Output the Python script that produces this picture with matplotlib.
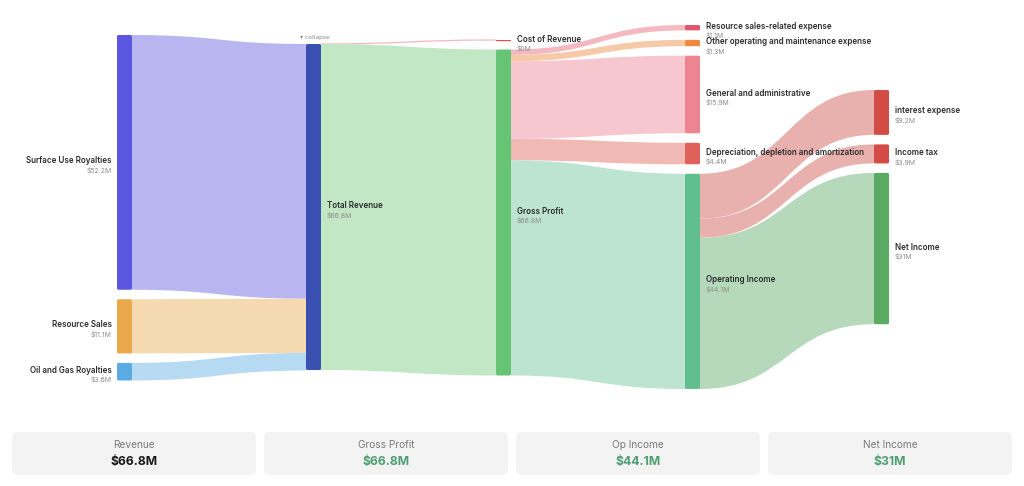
import matplotlib
matplotlib.use('Agg')
from matplotlib import pyplot as plt
from matplotlib.path import Path
from matplotlib.patches import PathPatch, FancyBboxPatch

plt.rcParams['font.family'] = ['Inter', 'DejaVu Sans']

# ---- data ($M) ----
node_names = ['Surface Use Royalties', 'Resource Sales', 'Oil and Gas Royalties',
              'Total Revenue',
              'Cost of Revenue', 'Gross Profit',
              'Resource sales-related expense', 'Other operating and maintenance expense',
              'General and administrative', 'Depreciation, depletion and amortization',
              'Operating Income',
              'interest expense', 'Income tax', 'Net Income']
node_values = [52.2, 11.1, 3.6,
               66.8,
               0.0, 66.8,
               1.1, 1.3, 15.9, 4.4, 44.1,
               9.2, 3.9, 31.0]
node_cols = [0, 0, 0, 1, 2, 2, 3, 3, 3, 3, 3, 4, 4, 4]

link_src = ['Surface Use Royalties', 'Resource Sales', 'Oil and Gas Royalties',
            'Total Revenue', 'Total Revenue',
            'Gross Profit', 'Gross Profit', 'Gross Profit', 'Gross Profit', 'Gross Profit',
            'Operating Income', 'Operating Income', 'Operating Income']
link_tgt = ['Total Revenue', 'Total Revenue', 'Total Revenue',
            'Cost of Revenue', 'Gross Profit',
            'Resource sales-related expense', 'Other operating and maintenance expense',
            'General and administrative', 'Depreciation, depletion and amortization',
            'Operating Income',
            'interest expense', 'Income tax', 'Net Income']
link_values = [52.2, 11.1, 3.6, 0.0, 66.8, 1.1, 1.3, 15.9, 4.4, 44.1, 9.2, 3.9, 31.0]

card_titles = ['Revenue', 'Gross Profit', 'Op Income', 'Net Income']
card_nodes = ['Total Revenue', 'Gross Profit', 'Operating Income', 'Net Income']

# ---- styles / layout (pixel units) ----
node_colors = ['#5c57e0', '#eaa84a', '#5aabe3', '#3a50b0', '#e05050', '#66c474',
               '#e0566a', '#ee8a40', '#ec8590', '#e0605a', '#60be8f',
               '#d24b45', '#d24b45', '#5aaa61']
link_colors = ['#b8b5f0', '#f5d9b1', '#b7daf3', '#f3b8c0', '#c1e7c5',
               '#f3b8c0', '#f6c9a8', '#f6c7ce', '#f0b9b3', '#bde4d1',
               '#e9b1ae', '#e9b1ae', '#b6d9bb']
col_x = [117, 306, 496, 685, 874]
col_top = [35, 44, 40, 25, 90]
node_w = 15
gap = 9.5
scale = 326 / 66.8  # px per $M

W, H = 1024, 486
fig = plt.figure(figsize=(W / 100, H / 100), dpi=100)
ax = fig.add_axes([0, 0, 1, 1])
ax.set_xlim(0, W)
ax.set_ylim(H, 0)
ax.axis('off')

# node layout
pos = {}
col_cursor = list(col_top)
for name, val, col in zip(node_names, node_values, node_cols):
    h = val * scale
    y0 = col_cursor[col]
    pos[name] = (col_x[col], y0, h)
    col_cursor[col] = y0 + h + gap

# links
src_off = {n: 0.0 for n in node_names}
tgt_off = {n: 0.0 for n in node_names}
for s, t, v, c in zip(link_src, link_tgt, link_values, link_colors):
    sx, sy, _ = pos[s]
    tx, ty, _ = pos[t]
    h = v * scale
    x0 = sx + node_w
    x1 = tx
    xm = (x0 + x1) / 2
    y0a = sy + src_off[s]
    y1a = ty + tgt_off[t]
    src_off[s] += h
    tgt_off[t] += h
    if h < 0.5:
        verts = [(x0, y0a), (xm, y0a), (xm, y1a), (x1, y1a)]
        codes = [Path.MOVETO, Path.CURVE4, Path.CURVE4, Path.CURVE4]
        ax.add_patch(PathPatch(Path(verts, codes), facecolor='none', edgecolor=c, lw=0.9, zorder=1))
        continue
    y0b, y1b = y0a + h, y1a + h
    verts = [(x0, y0a), (xm, y0a), (xm, y1a), (x1, y1a),
             (x1, y1b), (xm, y1b), (xm, y0b), (x0, y0b), (x0, y0a)]
    codes = [Path.MOVETO, Path.CURVE4, Path.CURVE4, Path.CURVE4,
             Path.LINETO, Path.CURVE4, Path.CURVE4, Path.CURVE4, Path.CLOSEPOLY]
    ax.add_patch(PathPatch(Path(verts, codes), facecolor=c, edgecolor='none', zorder=1))


def fmt(v):
    return '${:g}M'.format(round(v, 1))


# nodes + labels
for name, val, col, nc in zip(node_names, node_values, node_cols, node_colors):
    x, y, h = pos[name]
    hh = max(h, 1.2)
    ax.add_patch(FancyBboxPatch((x, y), node_w, hh,
                                boxstyle='round,pad=0,rounding_size={}'.format(min(1.5, hh / 2)),
                                facecolor=nc, edgecolor='none', zorder=2))
    cy = y + hh / 2
    if col == 0:
        lx, ha = x - 5, 'right'
    else:
        lx, ha = x + node_w + 6, 'left'
    ax.text(lx, cy - 1.5, name, ha=ha, va='center', fontsize=5.8, fontweight='semibold',
            color='#2b2b2b', zorder=3)
    ax.text(lx, cy + 8, fmt(val), ha=ha, va='center', fontsize=5, color='#8c8c8c', zorder=3)

tx, ty, _ = pos['Total Revenue']
ax.text(tx - 6, ty - 6, '\u25be collapse', ha='left', va='center', fontsize=4.3,
        color='#888888', family=['DejaVu Sans'])

# summary cards
vals = dict(zip(node_names, node_values))
card_w = 244
for i, (title, nname) in enumerate(zip(card_titles, card_nodes)):
    cx = 12 + i * (card_w + 8)
    ax.add_patch(FancyBboxPatch((cx, 432), card_w, 43,
                                boxstyle='round,pad=0,rounding_size=6',
                                facecolor='#f3f3f3', edgecolor='none'))
    ax.text(cx + card_w / 2, 445, title, ha='center', va='center', fontsize=7.3, color='#7a7a7a')
    ax.text(cx + card_w / 2, 461.5, fmt(vals[nname]), ha='center', va='center', fontsize=8.8,
            fontweight='bold', color='#1a1a1a' if i == 0 else '#4f9e72')

fig.savefig('out.png', dpi=100)
